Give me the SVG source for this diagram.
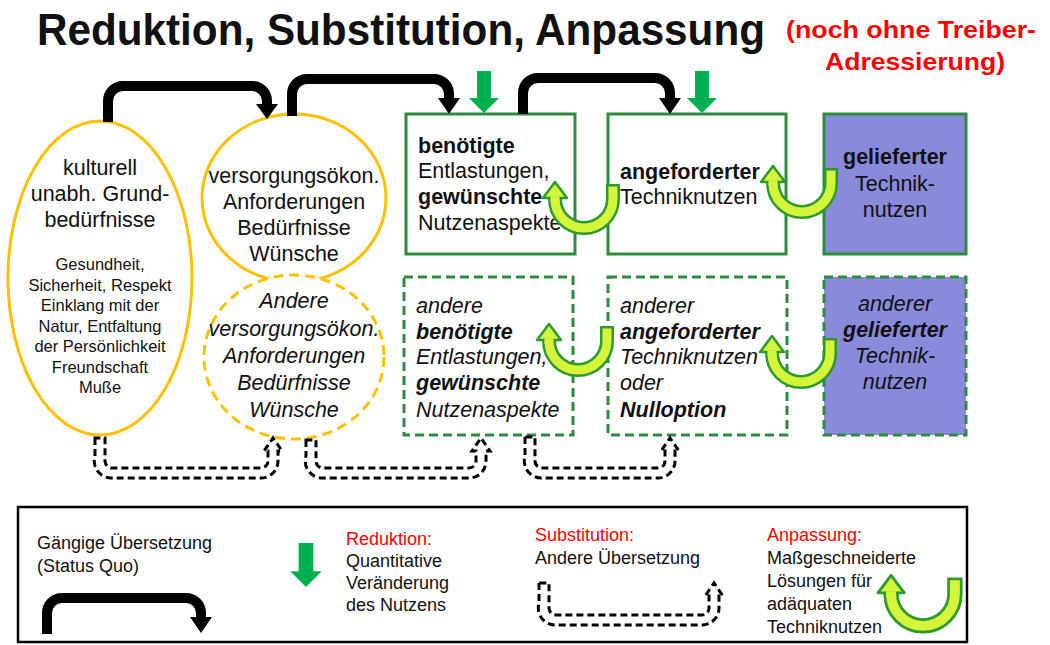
<svg xmlns="http://www.w3.org/2000/svg" width="1050" height="645" viewBox="0 0 1050 645">
<style>
text { font-family: "Liberation Sans", Arial, sans-serif; fill: #111; }
.t { font-size: 21.5px; }
.s { font-size: 16.5px; }
.lg { font-size: 18px; }
.b { font-weight: bold; }
.i { font-style: italic; }
.red { fill: #ff0000; }
.mid { text-anchor: middle; }
.ell { fill: #fff; stroke: #ffc000; stroke-width: 3; }
.ell-d { fill: #fff; stroke: #ffc000; stroke-width: 3; stroke-dasharray: 10 6; }
.box { fill: #fff; stroke: #2b8c3e; stroke-width: 3; }
.box-d { fill: #fff; stroke: #2b8c3e; stroke-width: 3; stroke-dasharray: 9 5; }
.purple { fill: #8a8adb; }
.sq { fill: none; stroke: #000; stroke-width: 10; }
.sqh { fill: #000; }
.red-arrow { fill: #00b050; }
.sub { fill: #fff; stroke: #000; stroke-width: 3; stroke-dasharray: 7 4; }
.legend-box { fill: #fff; stroke: #000; stroke-width: 2.5; }
</style>
<defs>
  <g id="u">
    <path d="M29,-15 V0 A29 29 0 0 1 -29,0 V-1" fill="none" stroke="#2e9a2e" stroke-width="14"/>
    <path d="M29,-12.5 V0 A29 29 0 0 1 -29,0 V-1" fill="none" stroke="#d4f53c" stroke-width="9"/>
    <polygon points="-41,-1 -29,-17 -17,-1" fill="#d4f53c" stroke="#2e9a2e" stroke-width="2.5" stroke-linejoin="round"/>
    <path d="M-29,3 V-2.5" fill="none" stroke="#d4f53c" stroke-width="9"/>
  </g>
  <polygon id="down" points="-7,0 7,0 7,27 15,27 0,42 -15,27 -7,27"/>
</defs>

<rect width="1050" height="645" fill="#fff"/>

<g id="title">
  <text x="37" y="45" class="b" font-size="44" textLength="728" lengthAdjust="spacingAndGlyphs">Reduktion, Substitution, Anpassung</text>
  <text x="786" y="38" class="b red" font-size="23" textLength="250" lengthAdjust="spacingAndGlyphs">(noch ohne Treiber-</text>
  <text x="825" y="70" class="b red" font-size="23" textLength="180" lengthAdjust="spacingAndGlyphs">Adressierung)</text>
</g>

<g id="n-grund">
  <ellipse class="ell" cx="100" cy="278" rx="92" ry="157"/>
  <text class="t mid" x="100" y="175">kulturell</text>
  <text class="t mid" x="100" y="201">unabh. Grund-</text>
  <text class="t mid" x="100" y="227">bedürfnisse</text>
  <text class="s mid" x="100" y="270">Gesundheit,</text>
  <text class="s mid" x="100" y="290.5">Sicherheit, Respekt</text>
  <text class="s mid" x="100" y="311">Einklang mit der</text>
  <text class="s mid" x="100" y="331.5">Natur, Entfaltung</text>
  <text class="s mid" x="100" y="352">der Persönlichkeit</text>
  <text class="s mid" x="100" y="372.5">Freundschaft</text>
  <text class="s mid" x="100" y="393">Muße</text>
</g>

<g id="n-versorg">
  <ellipse class="ell" cx="294" cy="198" rx="92" ry="84"/>
  <text class="t mid" x="294" y="183">versorgungsökon.</text>
  <text class="t mid" x="294" y="209">Anforderungen</text>
  <text class="t mid" x="294" y="235">Bedürfnisse</text>
  <text class="t mid" x="294" y="261">Wünsche</text>
</g>

<g id="n-versorg-alt">
  <ellipse class="ell-d" cx="294" cy="357" rx="90" ry="82"/>
  <text class="t mid i" x="294" y="308">Andere</text>
  <text class="t mid i" x="294" y="336">versorgungsökon.</text>
  <text class="t mid i" x="294" y="363">Anforderungen</text>
  <text class="t mid i" x="294" y="390">Bedürfnisse</text>
  <text class="t mid i" x="294" y="417">Wünsche</text>
</g>

<g id="n-benoetigt">
  <rect class="box" x="406" y="114" width="169" height="140"/>
  <text class="t b" x="418" y="153">benötigte</text>
  <text class="t" x="418" y="178">Entlastungen,</text>
  <text class="t b" x="418" y="204">gewünschte</text>
  <text class="t" x="418" y="230">Nutzenaspekte</text>
</g>

<g id="n-angefordert">
  <rect class="box" x="608" y="114" width="178" height="140"/>
  <text class="t b" x="620" y="179">angeforderter</text>
  <text class="t" x="620" y="204">Techniknutzen</text>
</g>

<g id="n-geliefert">
  <rect class="box purple" x="824" y="114" width="142" height="140"/>
  <text class="t b mid" x="895" y="164">gelieferter</text>
  <text class="t mid" x="895" y="191">Technik-</text>
  <text class="t mid" x="895" y="217">nutzen</text>
</g>

<g id="n-benoetigt-alt">
  <rect class="box-d" x="404" y="277" width="169" height="158"/>
  <text class="t i" x="416" y="313">andere</text>
  <text class="t i b" x="416" y="339">benötigte</text>
  <text class="t i" x="416" y="364">Entlastungen,</text>
  <text class="t i b" x="416" y="390">gewünschte</text>
  <text class="t i" x="416" y="417">Nutzenaspekte</text>
</g>

<g id="n-angefordert-alt">
  <rect class="box-d" x="608" y="277" width="179" height="158"/>
  <text class="t i" x="620" y="313">anderer</text>
  <text class="t i b" x="620" y="339">angeforderter</text>
  <text class="t i" x="620" y="364">Techniknutzen</text>
  <text class="t i" x="620" y="390">oder</text>
  <text class="t i b" x="620" y="417">Nulloption</text>
</g>

<g id="n-geliefert-alt">
  <rect class="box-d purple" x="824" y="277" width="142" height="158"/>
  <text class="t i mid" x="895" y="311">anderer</text>
  <text class="t i b mid" x="895" y="337">gelieferter</text>
  <text class="t i mid" x="895" y="363">Technik-</text>
  <text class="t i mid" x="895" y="389">nutzen</text>
</g>

<g id="connectors">
  <path class="sq" d="M108,122 V101 A15 15 0 0 1 123,86 H252 A15 15 0 0 1 267,101 V106"/>
  <polygon class="sqh" points="256,104 278,104 267,119"/>
  <path class="sq" d="M292,116 V94 A15 15 0 0 1 307,79 H434 A15 15 0 0 1 449,94 V100"/>
  <polygon class="sqh" points="438,98 460,98 449,114"/>
  <path class="sq" d="M523,114 V93 A15 15 0 0 1 538,78 H655 A15 15 0 0 1 670,93 V100"/>
  <polygon class="sqh" points="659,98 681,98 670,114"/>
  <use href="#down" class="red-arrow" transform="translate(484,71)"/>
  <use href="#down" class="red-arrow" transform="translate(702,71)"/>
  <path class="sub" d="M95,438 V456 A17 17 0 0 0 112,478 H261 A17 17 0 0 0 278,461 V451 H282 L273,438 L264,451 H268 V461 A7 7 0 0 1 261,468 H112 A7 7 0 0 1 105,461 V438 Z"/>
  <path class="sub" d="M306,440 V456 A17 17 0 0 0 323,478 H469 A17 17 0 0 0 486,461 V451 H490 L481,438 L472,451 H476 V461 A7 7 0 0 1 469,468 H323 A7 7 0 0 1 316,461 V440 Z"/>
  <path class="sub" d="M525,437 V456 A17 17 0 0 0 542,478 H658 A17 17 0 0 0 675,461 V451 H679 L670,438 L661,451 H665 V461 A7 7 0 0 1 658,468 H542 A7 7 0 0 1 535,461 V437 Z"/>
  <use href="#u" transform="translate(584,199)"/>
  <use href="#u" transform="translate(802,183)"/>
  <use href="#u" transform="translate(578,341)"/>
  <use href="#u" transform="translate(801,353)"/>
</g>

<g id="legend">
  <rect class="legend-box" x="18" y="507" width="949" height="135"/>
  <text class="lg" x="37" y="549">Gängige Übersetzung</text>
  <text class="lg" x="37" y="572">(Status Quo)</text>
  <path class="sq" d="M47,634 V613 A15 15 0 0 1 62,598 H186 A15 15 0 0 1 201,613 V619"/>
  <polygon class="sqh" points="190,617 212,617 201,633"/>
  <use href="#down" class="red-arrow" transform="translate(306,543) scale(1.05)"/>
  <text class="lg red" x="346" y="545">Reduktion:</text>
  <text class="lg" x="346" y="567">Quantitative</text>
  <text class="lg" x="346" y="589">Veränderung</text>
  <text class="lg" x="346" y="611">des Nutzens</text>
  <text class="lg red" x="535" y="541">Substitution:</text>
  <text class="lg" x="535" y="564">Andere Übersetzung</text>
  <path class="sub" d="M539,583 V603 A17 17 0 0 0 556,625 H702 A17 17 0 0 0 719,608 V596 H723 L714,583 L705,596 H709 V608 A7 7 0 0 1 702,615 H556 A7 7 0 0 1 549,608 V583 Z"/>
  <text class="lg red" x="767" y="541">Anpassung:</text>
  <text class="lg" x="767" y="564">Maßgeschneiderte</text>
  <text class="lg" x="767" y="587">Lösungen für</text>
  <text class="lg" x="767" y="610">adäquaten</text>
  <text class="lg" x="767" y="633">Techniknutzen</text>
  <use href="#u" transform="translate(923,594) scale(1.1)"/>
</g>
</svg>
